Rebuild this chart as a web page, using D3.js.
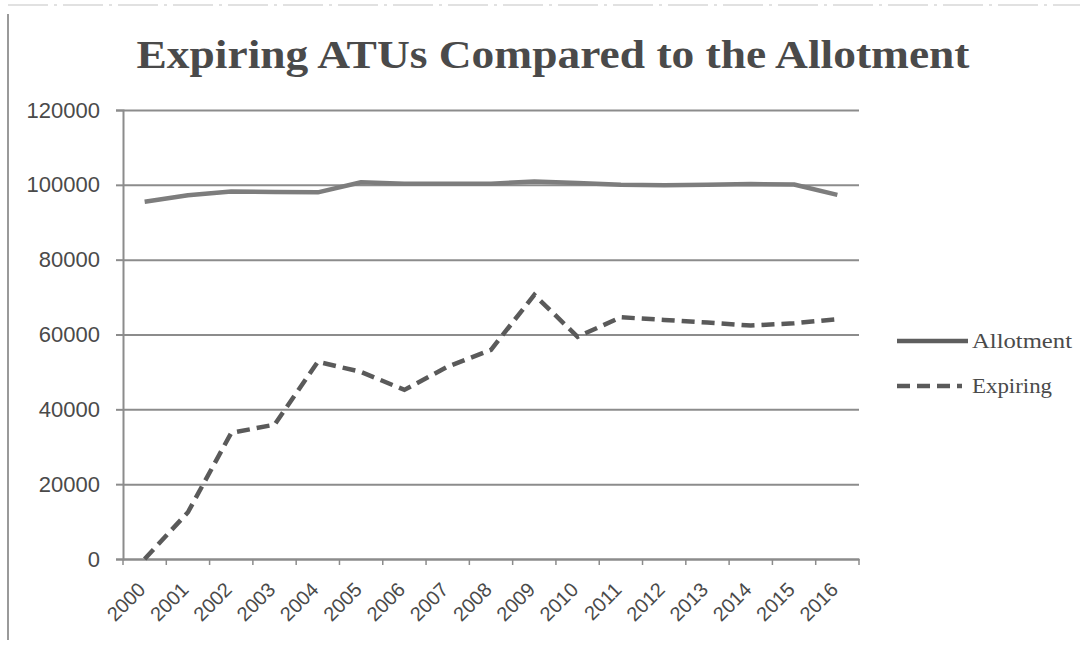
<!DOCTYPE html>
<html>
<head>
<meta charset="utf-8">
<script src="https://cdn.jsdelivr.net/npm/d3@7"></script>
<style>
  html, body { margin: 0; padding: 0; background: #ffffff; }
  svg { display: block; }
</style>
</head>
<body>
<svg id="chart" width="1089" height="652"></svg>
<script>
const years = ["2000","2001","2002","2003","2004","2005","2006","2007","2008","2009","2010","2011","2012","2013","2014","2015","2016"];
const allotment = [95500, 97200, 98200, 98100, 98000, 100700, 100300, 100300, 100300, 100900, 100500, 100000, 99900, 100000, 100200, 100100, 97300];
const expiring = [0, 12500, 33700, 35900, 52700, 50000, 45200, 51400, 55900, 70600, 59400, 64600, 63900, 63200, 62400, 63000, 64100];
const yTicks = [0, 20000, 40000, 60000, 80000, 100000, 120000];
const seriesNames = ["Allotment", "Expiring"];
const titleText = "Expiring ATUs Compared to the Allotment";

const svg = d3.select("#chart");
const plot = { left: 123, right: 859, top: 110, bottom: 559 };

// frame
svg.append("line").attr("x1", 8).attr("x2", 8).attr("y1", 14).attr("y2", 640)
  .attr("stroke", "#9a9a9a").attr("stroke-width", 2);
svg.append("line").attr("x1", 8).attr("x2", 1080).attr("y1", 5).attr("y2", 5)
  .attr("stroke", "#d8d8d8").attr("stroke-width", 1.5).attr("stroke-dasharray", "40 6 3 6");

// title
svg.append("text")
  .attr("x", 553).attr("y", 68)
  .attr("text-anchor", "middle")
  .attr("font-family", "Liberation Serif, Times New Roman, serif")
  .attr("font-weight", "bold")
  .attr("font-size", 41)
  .attr("fill", "#4a4a4a")
  .attr("textLength", 833).attr("lengthAdjust", "spacingAndGlyphs")
  .text(titleText);

const x = d3.scaleBand().domain(years).range([plot.left, plot.right]).padding(0);
const y = d3.scaleLinear().domain([0, 120000]).range([plot.bottom, plot.top]);
const cx = d => x(d) + x.bandwidth() / 2;

// gridlines
const grid = svg.append("g").attr("transform", `translate(${plot.left},0)`)
  .call(d3.axisLeft(y).tickValues(yTicks).tickSize(-(plot.right - plot.left)).tickFormat(""));
grid.select(".domain").remove();
grid.selectAll(".tick line").attr("stroke", "#8c8c8c").attr("stroke-width", 2);

// y axis
const yAxis = svg.append("g").attr("transform", `translate(${plot.left},0)`)
  .call(d3.axisLeft(y).tickValues(yTicks).tickSize(7).tickPadding(16).tickFormat(d3.format("d")));
yAxis.select(".domain").attr("stroke", "#8c8c8c").attr("stroke-width", 2);
yAxis.selectAll(".tick line").attr("stroke", "#8c8c8c").attr("stroke-width", 2);
yAxis.selectAll(".tick text")
  .attr("font-family", "Liberation Sans, Arial, sans-serif")
  .attr("font-size", 22).attr("fill", "#4a4a4a");

// x axis
const xAxis = svg.append("g").attr("transform", `translate(0,${plot.bottom})`)
  .call(d3.axisBottom(x).tickSize(0).tickPadding(0));
xAxis.select(".domain").attr("stroke", "#8c8c8c").attr("stroke-width", 2);
xAxis.selectAll(".tick text")
  .attr("font-family", "Liberation Sans, Arial, sans-serif")
  .attr("font-size", 20).attr("fill", "#4a4a4a")
  .attr("text-anchor", "end")
  .attr("dy", 0)
  .attr("transform", "translate(2,32) rotate(-45)");
// category boundary tick marks
const bounds = years.map(d => x(d)).concat([plot.right]);
svg.append("g").selectAll("line").data(bounds).join("line")
  .attr("x1", d => d).attr("x2", d => d)
  .attr("y1", plot.bottom).attr("y2", plot.bottom + 6)
  .attr("stroke", "#8c8c8c").attr("stroke-width", 1.5);

// lines
const line = d3.line().x((d, i) => cx(years[i])).y(d => y(d));
svg.append("path").datum(allotment)
  .attr("d", line).attr("fill", "none")
  .attr("stroke", "#7d7d7d").attr("stroke-width", 4.5)
  .attr("stroke-linejoin", "round");
svg.append("path").datum(expiring)
  .attr("d", line).attr("fill", "none")
  .attr("stroke", "#5a5a5a").attr("stroke-width", 4.5)
  .attr("stroke-dasharray", "13 7");

// legend
const legend = svg.append("g");
const legY = [341, 386];
const legLen = [100, 80];
const legStyles = [{ c: "#5e5e5e", dash: null }, { c: "#5a5a5a", dash: "13 7" }];
seriesNames.forEach((name, i) => {
  legend.append("line")
    .attr("x1", 897).attr("x2", i === 0 ? 968 : 962)
    .attr("y1", legY[i]).attr("y2", legY[i])
    .attr("stroke", legStyles[i].c).attr("stroke-width", 4.5)
    .attr("stroke-dasharray", legStyles[i].dash);
  legend.append("text")
    .attr("x", 972).attr("y", legY[i] + 7)
    .attr("font-family", "Liberation Serif, Times New Roman, serif")
    .attr("font-size", 22).attr("fill", "#4a4a4a")
    .attr("textLength", legLen[i]).attr("lengthAdjust", "spacingAndGlyphs")
    .text(name);
});
</script>
</body>
</html>
